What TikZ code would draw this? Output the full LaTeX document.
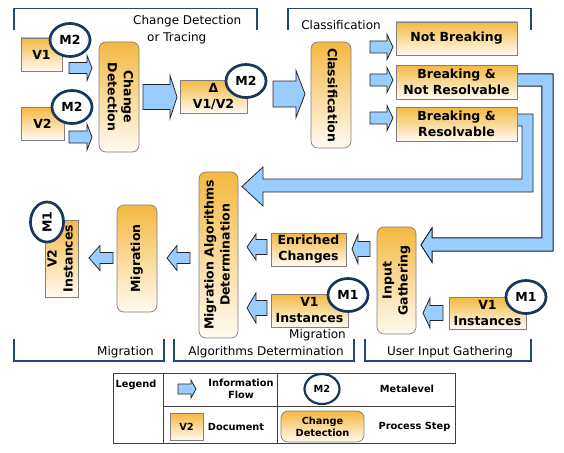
\documentclass[tikz,border=0pt]{standalone}
\usepackage{fontspec}
\setmainfont{DejaVu Sans}
\usepackage{graphicx}
\usetikzlibrary{shapes.geometric}

\definecolor{docTop}{RGB}{244,184,64}
\definecolor{docBot}{RGB}{255,251,242}
\definecolor{metaBlue}{RGB}{23,55,94}
\definecolor{flowBlue}{RGB}{153,204,255}
\definecolor{barBlue}{RGB}{31,73,125}

% rotated multi-line text
\newcommand{\vtxt}[2]{\rotatebox{#1}{\begin{tabular}{@{}c@{}}#2\end{tabular}}}
% block arrow: tail x, head base x, tip x, centre y, shaft half, head half
\newcommand{\flowarr}[6]{%
  \draw[flowline] (#1,#4-#5) -- (#2,#4-#5) -- (#2,#4-#6) -- (#3,#4)
    -- (#2,#4+#6) -- (#2,#4+#5) -- (#1,#4+#5) -- cycle;}

\tikzset{
  doc/.style={draw=black!50, line width=0.7pt, top color=docTop, bottom color=docBot,
    inner sep=0pt, align=center, font=\fontsize{12.5}{16}\selectfont\bfseries},
  proc/.style={doc, rounded corners=7pt},
  meta/.style={ellipse, draw=metaBlue, line width=2.7pt, fill=white, inner sep=0pt,
    minimum width=40pt, minimum height=33pt, font=\fontsize{12.5}{14}\selectfont\bfseries},
  flowline/.style={draw=black!85, line width=0.8pt, fill=flowBlue},
  bar/.style={draw=barBlue, line width=1.4pt},
  lbl/.style={font=\fontsize{12}{17}\selectfont, inner sep=0pt},
  leg/.style={font=\fontsize{9.8}{12.5}\selectfont\bfseries, inner sep=0pt, align=center},
}

\begin{document}
\begin{tikzpicture}[x=1pt, y=-1pt]
  \useasboundingbox (0,0) rectangle (564,452);

  %---- phase brackets
  \draw[bar] (14,30) -- (14,8.5) -- (257,8.5) -- (257,30);
  \draw[bar] (288,30) -- (288,8.5) -- (531,8.5) -- (531,30);
  \draw[bar] (14,339) -- (14,361) -- (164,361) -- (164,339);
  \draw[bar] (174,339) -- (174,361) -- (354,361) -- (354,339);
  \draw[bar] (365,339) -- (365,361) -- (531,361) -- (531,339);
  \node[lbl, align=left, anchor=west] (tcd) at (133,29.5) {Change Detection\\\hspace*{14pt}or Tracing};
  \node[lbl] (tcls) at (341,25) {Classification};
  \node[lbl, anchor=east] (tmig) at (154,352) {Migration};
  \node[lbl] (tad) at (266,352) {Algorithms Determination};
  \node[lbl] (tuig) at (450,352) {User Input Gathering};
  \node[lbl, anchor=east] (tmig2) at (346,335) {Migration};

  %---- information flow (drawn first, boxes sit on top)
  \flowarr{69}{87}{92}{68}{5.5}{12.5}
  \flowarr{69}{87}{92}{137}{6}{13}
  \flowarr{143}{170}{177}{97}{12.5}{21.5}
  \flowarr{273}{296}{305}{94}{13}{23.5}
  \foreach \y in {47,80,118}
    \flowarr{370}{387}{393}{\y}{6}{12.5}
  % Breaking & Not Resolvable -> Input Gathering
  \draw[flowline] (515,74) -- (553,74) -- (553,251) -- (432,251) -- (432,262)
    -- (421,245) -- (432,228) -- (432,238) -- (542,238) -- (542,86) -- (515,86) -- cycle;
  % Breaking & Resolvable -> Algorithms Determination
  \draw[flowline] (515,114) -- (533,114) -- (533,192) -- (263,192) -- (263,206)
    -- (242,186.5) -- (263,167) -- (263,179) -- (522,179) -- (522,126) -- (515,126) -- cycle;
  \flowarr{190}{177}{167}{258}{5.5}{12.5}
  \flowarr{113}{100}{89}{258}{5.5}{12.5}
  \flowarr{267}{256}{247}{247}{7.5}{13}
  \flowarr{267}{256}{247}{308}{7.5}{15}
  \flowarr{370}{358}{352}{249}{7.5}{14.5}
  \flowarr{443}{430}{423}{313}{7.5}{15}

  %---- documents and process steps
  \node[doc, minimum width=41pt, minimum height=33pt] (v1) at (41.5,54.5) {V1};
  \node[doc, minimum width=43pt, minimum height=33pt] (v2) at (42.5,123.5) {V2};
  \node[proc, minimum width=40pt, minimum height=110pt] (cd) at (119,97) {\vtxt{-90}{Change\\Detection}};
  \node[doc, minimum width=67pt, minimum height=33pt] (delta) at (213.5,96.5) {Δ\\V1/V2};
  \node[proc, minimum width=40pt, minimum height=106pt] (cls) at (331,95) {\vtxt{-90}{Classification}};
  \node[doc, minimum width=121pt, minimum height=33pt] (nb) at (456.5,38.5) {Not Breaking};
  \node[doc, minimum width=121pt, minimum height=34pt] (bnr) at (456.5,82) {Breaking \&\\Not Resolvable};
  \node[doc, minimum width=121pt, minimum height=34pt] (br) at (456.5,124) {Breaking \&\\Resolvable};
  \node[proc, minimum width=39pt, minimum height=166pt] (mad) at (218.5,255) {\vtxt{90}{Migration Algorithms\\Determination}};
  \node[proc, minimum width=40pt, minimum height=107pt] (mig) at (137,258.5) {\vtxt{90}{Migration}};
  \node[doc, minimum width=33pt, minimum height=77pt] (v2i) at (61.5,258.5) {\vtxt{90}{V2\\Instances}};
  \node[doc, minimum width=75pt, minimum height=33pt] (enr) at (308.5,249.5) {Enriched\\Changes};
  \node[doc, minimum width=77pt, minimum height=33pt] (v1m) at (309.5,310.5) {V1\\Instances};
  \node[proc, minimum width=39pt, minimum height=107pt] (ig) at (396.5,280.5) {\vtxt{90}{Input\\Gathering}};
  \node[doc, minimum width=77pt, minimum height=32pt] (v1r) at (487.5,313) {V1\\Instances};

  %---- metalevels
  \node[meta] (m2a) at (70,40) {M2};
  \node[meta] (m2b) at (72,107) {M2};
  \node[meta] (m2c) at (246,81) {M2};
  \node[meta, minimum width=33pt, minimum height=40pt] (m1a) at (47,222) {\rotatebox{90}{M1}};
  \node[meta] (m1b) at (348,295) {M1};
  \node[meta] (m1c) at (526,297) {M1};

  %---- legend
  \draw[black!75, line width=0.8pt] (113,373) rectangle (455,443);
  \draw[black!75, line width=0.8pt] (163,373) -- (163,443) (277,373) -- (277,443) (163,406) -- (455,406);
  \node[leg] (lg) at (136,385) {Legend};
  \flowarr{178}{191}{196}{389}{5}{9}
  \node[leg] (lflow) at (241,389) {Information\\Flow};
  \node[meta, minimum width=35pt, minimum height=30pt, line width=2.2pt, font=\fontsize{9.8}{12}\selectfont\bfseries] (lmeta) at (322,389) {M2};
  \node[leg] (lmetat) at (407,389) {Metalevel};
  \node[doc, minimum width=33pt, minimum height=27pt, font=\fontsize{9.8}{12}\selectfont\bfseries] (ldoc) at (186.5,426.5) {V2};
  \node[leg] (ldoct) at (236,426.5) {Document};
  \node[proc, minimum width=83pt, minimum height=31pt, font=\fontsize{9.8}{12}\selectfont\bfseries] (lproc) at (322.5,426.5) {Change\\Detection};
  \node[leg] (lproct) at (414.5,426.5) {Process Step};
\end{tikzpicture}
\end{document}
